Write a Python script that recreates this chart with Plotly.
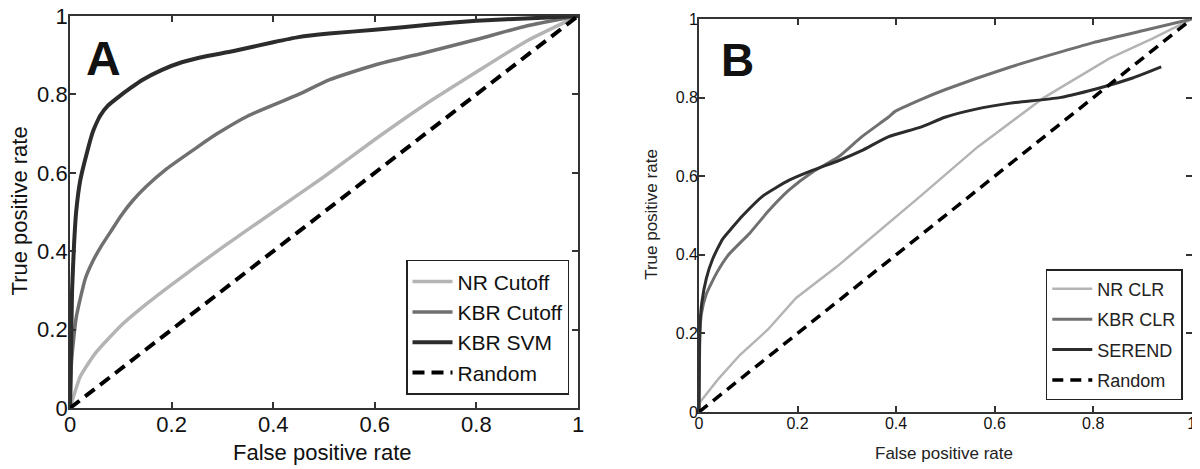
import plotly.graph_objects as go

# Panel A - ROC curves
fpr_a_nr = [0, 0.02, 0.05, 0.1, 0.15, 0.2, 0.3, 0.4, 0.5, 0.6, 0.7, 0.8, 0.9, 1.0]
tpr_a_nr = [0, 0.08, 0.14, 0.21, 0.265, 0.315, 0.41, 0.50, 0.59, 0.685, 0.775, 0.857, 0.937, 1.0]

fpr_a_kbr = [0, 0.003, 0.012, 0.03, 0.045, 0.06, 0.08, 0.1, 0.124, 0.15, 0.19, 0.25,
             0.29, 0.35, 0.45, 0.51, 0.6, 0.7, 0.8, 0.9, 1.0]
tpr_a_kbr = [0, 0.12, 0.23, 0.33, 0.375, 0.41, 0.45, 0.49, 0.53, 0.565, 0.61, 0.665,
             0.70, 0.745, 0.80, 0.837, 0.875, 0.907, 0.94, 0.975, 1.0]

fpr_a_svm = [0, 0.002, 0.004, 0.008, 0.012, 0.02, 0.033, 0.045, 0.059, 0.075, 0.092, 0.12,
             0.144, 0.18, 0.22, 0.27, 0.32, 0.4, 0.45, 0.51, 0.6, 0.71, 0.8, 0.92, 1.0]
tpr_a_svm = [0, 0.15, 0.3, 0.42, 0.5, 0.58, 0.65, 0.705, 0.745, 0.772, 0.79, 0.817,
             0.838, 0.862, 0.882, 0.898, 0.91, 0.933, 0.946, 0.955, 0.965, 0.978, 0.988, 0.995, 1.0]

# Panel B - ROC curves
fpr_b_nr = [0, 0.002, 0.04, 0.083, 0.14, 0.197, 0.28, 0.384, 0.45, 0.565, 0.70, 0.833, 0.92, 1.0]
tpr_b_nr = [0, 0.025, 0.085, 0.145, 0.21, 0.29, 0.37, 0.48, 0.55, 0.674, 0.80, 0.90, 0.95, 1.0]

fpr_b_kbr = [0, 0.002, 0.005, 0.015, 0.036, 0.06, 0.103, 0.14, 0.183, 0.23, 0.284, 0.33,
             0.384, 0.398, 0.45, 0.499, 0.632, 0.8, 0.9, 1.0]
tpr_b_kbr = [0, 0.2, 0.25, 0.3, 0.354, 0.4, 0.455, 0.51, 0.565, 0.61, 0.65, 0.70,
             0.75, 0.765, 0.795, 0.82, 0.878, 0.94, 0.97, 1.0]

fpr_b_serend = [0, 0.002, 0.006, 0.015, 0.028, 0.048, 0.068, 0.089, 0.13, 0.183, 0.23, 0.284,
                0.33, 0.384, 0.45, 0.499, 0.56, 0.632, 0.732, 0.82, 0.88, 0.938]
tpr_b_serend = [0, 0.22, 0.28, 0.34, 0.39, 0.44, 0.47, 0.50, 0.55, 0.59, 0.615, 0.64,
                0.665, 0.70, 0.725, 0.75, 0.77, 0.786, 0.80, 0.827, 0.85, 0.878]

random_line = [0, 1]
ticks = [0, 0.2, 0.4, 0.6, 0.8, 1]
tick_text = ["0", "0.2", "0.4", "0.6", "0.8", "1"]

LIGHT, MID, DARK = "#b4b4b4", "#707070", "#2c2c2c"
FONT = "Liberation Sans, Arial, sans-serif"

fig = go.Figure()

# A
fig.add_trace(go.Scatter(x=fpr_a_nr, y=tpr_a_nr, mode="lines", name="NR Cutoff",
                         line=dict(color=LIGHT, width=3.5, shape="spline", smoothing=0.5),
                         xaxis="x", yaxis="y", legend="legend"))
fig.add_trace(go.Scatter(x=fpr_a_kbr, y=tpr_a_kbr, mode="lines", name="KBR Cutoff",
                         line=dict(color=MID, width=3.5, shape="spline", smoothing=0.5),
                         xaxis="x", yaxis="y", legend="legend"))
fig.add_trace(go.Scatter(x=fpr_a_svm, y=tpr_a_svm, mode="lines", name="KBR SVM",
                         line=dict(color=DARK, width=4, shape="spline", smoothing=0.4),
                         xaxis="x", yaxis="y", legend="legend"))
fig.add_trace(go.Scatter(x=random_line, y=random_line, mode="lines", name="Random",
                         line=dict(color="black", width=4, dash="12px,7px"),
                         xaxis="x", yaxis="y", legend="legend"))

# B (one legend group per trace so tracegroupgap spaces the entries)
fig.add_trace(go.Scatter(x=fpr_b_nr, y=tpr_b_nr, mode="lines", name="NR CLR", legendgroup="b1",
                         line=dict(color=LIGHT, width=2.5), xaxis="x2", yaxis="y2", legend="legend2"))
fig.add_trace(go.Scatter(x=fpr_b_kbr, y=tpr_b_kbr, mode="lines", name="KBR CLR", legendgroup="b2",
                         line=dict(color=MID, width=3, shape="spline", smoothing=0.5),
                         xaxis="x2", yaxis="y2", legend="legend2"))
fig.add_trace(go.Scatter(x=fpr_b_serend, y=tpr_b_serend, mode="lines", name="SEREND", legendgroup="b3",
                         line=dict(color=DARK, width=3, shape="spline", smoothing=0.5),
                         xaxis="x2", yaxis="y2", legend="legend2"))
fig.add_trace(go.Scatter(x=random_line, y=random_line, mode="lines", name="Random", legendgroup="b4",
                         line=dict(color="black", width=3.5, dash="11px,7px"),
                         xaxis="x2", yaxis="y2", legend="legend2"))


def axis_style(domain, anchor, size, lw):
    return dict(
        domain=domain, anchor=anchor, range=[0, 1], tickvals=ticks, ticktext=tick_text,
        showline=True, linecolor="#333", linewidth=lw, mirror="ticks",
        ticks="inside", ticklen=6, tickcolor="#333", tickwidth=lw,
        showgrid=False, zeroline=False, fixedrange=True, automargin=False,
        ticklabelstandoff=-4, ticklabeloverflow="allow",
        tickfont=dict(family=FONT, size=size, color="#111"),
    )


def label(text, x, y, size, angle=0, color="#111"):
    return dict(text=text, x=x, y=y, xref="paper", yref="paper", textangle=angle,
                xanchor="center", yanchor="middle", showarrow=False,
                font=dict(family=FONT, size=size, color=color))


fig.update_layout(
    width=1200, height=469,
    margin=dict(l=0, r=0, t=0, b=0),
    paper_bgcolor="white", plot_bgcolor="white",
    xaxis=axis_style([0.0517, 0.475], "y", 22, 2),
    yaxis=axis_style([0.147, 0.983], "x", 22, 2),
    xaxis2=axis_style([0.5758, 0.9865], "y2", 16, 1.5),
    yaxis2=axis_style([0.1386, 0.9765], "x2", 16, 1.5),
    legend=dict(x=0.4675, y=0.175, xanchor="right", yanchor="bottom",
                bgcolor="white", bordercolor="#222", borderwidth=1.5,
                font=dict(family=FONT, size=21, color="#111"), tracegroupgap=0,
                itemwidth=40),
    legend2=dict(x=0.979, y=0.164, xanchor="right", yanchor="bottom",
                 bgcolor="white", bordercolor="#222", borderwidth=1.5,
                 font=dict(family=FONT, size=18, color="#222"), tracegroupgap=4,
                 itemwidth=40),
    annotations=[
        dict(text="<b>A</b>", x=0.063, y=0.893, xref="paper", yref="paper",
             xanchor="left", yanchor="middle", showarrow=False,
             font=dict(family=FONT, size=48, color="#111")),
        dict(text="<b>B</b>", x=0.5925, y=0.889, xref="paper", yref="paper",
             xanchor="left", yanchor="middle", showarrow=False,
             font=dict(family=FONT, size=46, color="#111")),
        label("False positive rate", 0.2617, 0.053, 22),
        label("True positive rate", 0.0095, 0.567, 22, angle=-90),
        label("False positive rate", 0.78, 0.051, 17, color="#222"),
        label("True positive rate", 0.5367, 0.559, 17, angle=-90, color="#222"),
    ],
)

fig.write_html("out.html")
